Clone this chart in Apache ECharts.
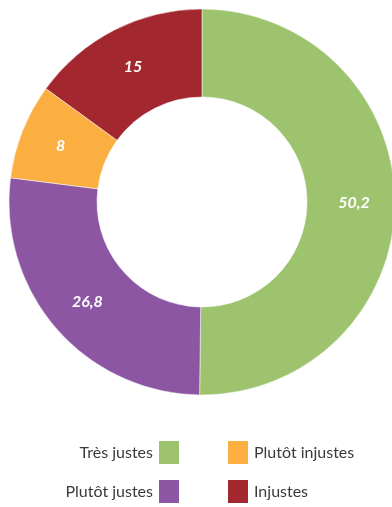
<!DOCTYPE html>
<html>
<head>
<meta charset="utf-8">
<script src="https://cdn.jsdelivr.net/npm/echarts@6/dist/echarts.min.js"></script>
<style>
  html, body { margin: 0; padding: 0; background: #fff; }
  #chart { width: 392px; height: 507px; }
</style>
</head>
<body>
<div id="chart"></div>
<script>
// Opinion shares (%), clockwise from 12 o'clock
const categories = ['Très justes', 'Plutôt justes', 'Plutôt injustes', 'Injustes'];
const values = [50.2, 26.8, 8, 15];
const colors = ['#9DC36F', '#8C56A3', '#FBAF41', '#A3272F'];

const chart = echarts.init(document.getElementById('chart'), null, { renderer: 'canvas' });

const legendText = { color: '#3a3a3a', fontSize: 16, fontFamily: 'Lato, "Open Sans", sans-serif' };

chart.setOption({
  animation: false,
  color: colors,
  legend: [
    {
      orient: 'vertical',
      right: 211,
      top: 439,
      padding: 0,
      align: 'right',
      icon: 'rect',
      itemWidth: 22,
      itemHeight: 25,
      itemGap: 12,
      selectedMode: false,
      textStyle: Object.assign({ padding: [0, 0, 4, 0] }, legendText),
      data: [categories[0], categories[1]]
    },
    {
      orient: 'vertical',
      left: 226,
      top: 439,
      padding: 0,
      align: 'left',
      icon: 'rect',
      itemWidth: 22,
      itemHeight: 25,
      itemGap: 12,
      selectedMode: false,
      textStyle: Object.assign({ padding: [4, 0, 0, 0] }, legendText),
      data: [categories[2], categories[3]]
    }
  ],
  series: [{
    type: 'pie',
    center: [202, 202],
    radius: [105, 193],
    startAngle: 90,
    clockwise: true,
    avoidLabelOverlap: false,
    itemStyle: { borderColor: '#ffffff', borderWidth: 0.5 },
    label: {
      show: true,
      position: 'inside',
      color: '#ffffff',
      fontSize: 16,
      fontStyle: 'italic',
      fontWeight: 'bold',
      fontFamily: 'Lato, "Open Sans", sans-serif',
      formatter: p => String(p.value).replace('.', ',')
    },
    labelLine: { show: false },
    emphasis: { disabled: true },
    data: categories.map((name, i) => ({ name, value: values[i] }))
  }]
});
</script>
</body>
</html>
